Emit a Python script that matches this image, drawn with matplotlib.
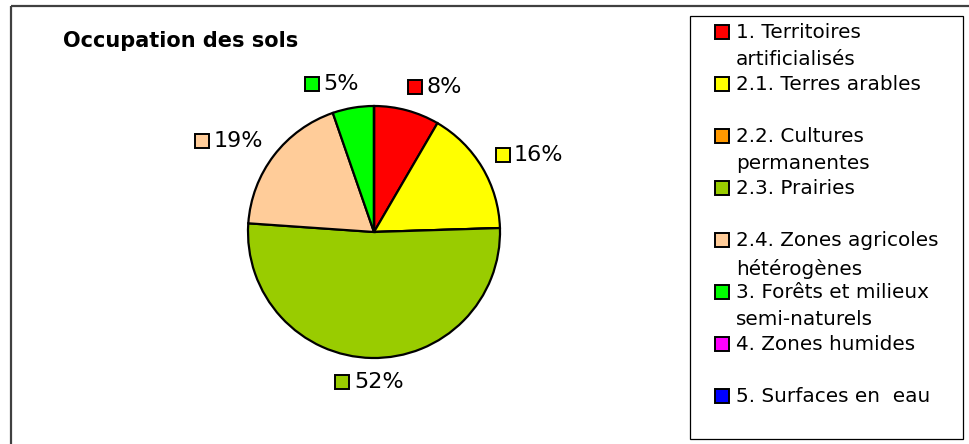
import numpy as np
import matplotlib
matplotlib.use("Agg")
import matplotlib.pyplot as plt
from matplotlib.patches import Rectangle

plt.rcParams['font.family'] = ['DejaVu Sans']

# ---- data ----
title = "Occupation des sols"
categories = [
    "1. Territoires\nartificialisés",
    "2.1. Terres arables",
    "2.2. Cultures\npermanentes",
    "2.3. Prairies",
    "2.4. Zones agricoles\nhétérogènes",
    "3. Forêts et milieux\nsemi-naturels",
    "4. Zones humides",
    "5. Surfaces en  eau",
]
values = [8.4, 16.1, 0.0, 51.6, 18.6, 5.3, 0.0, 0.0]
colors = ["#FF0000", "#FFFF00", "#FF9900", "#99CC00", "#FFCC99", "#00FF00", "#FF00FF", "#0000FF"]

W, H = 970, 444
fig = plt.figure(figsize=(W / 100, H / 100), dpi=100)

# overlay in pixel coordinates for frames / legend
ov = fig.add_axes([0, 0, 1, 1])
ov.set_xlim(0, W)
ov.set_ylim(H, 0)
ov.axis("off")

# outer chart border (partially cropped)
ov.add_patch(Rectangle((11, 6), 1200, 800, fill=False, ec="#404040", lw=1.6, clip_on=True))
# legend frame
ov.add_patch(Rectangle((690, 16), 273, 423, fill=False, ec="black", lw=0.9))

# title
ov.text(63, 41, title, fontsize=15, fontweight="bold", ha="left", va="center")

# pie
cx, cy, r = 374, 232, 126
ax = fig.add_axes([(cx - r) / W, (H - cy - r) / H, 2 * r / W, 2 * r / H])
wedges, _ = ax.pie(values, colors=colors, startangle=90, counterclock=False,
                   wedgeprops=dict(edgecolor="black", linewidth=1.6))
ax.set_xlim(-1, 1)
ax.set_ylim(-1, 1)
ax.set_aspect("equal")
ax.axis("off")

# data labels: marker + percentage, placed around mid-angle
total = sum(values)
fig.canvas.draw()
renderer = fig.canvas.get_renderer()
for w, v, c in zip(wedges, values, colors):
    if v <= 0:
        continue
    th = np.deg2rad((w.theta1 + w.theta2) / 2)
    dx = 1.26 * np.cos(th) + 0.15 * np.clip(5 * np.cos(th), -1, 1)
    dy = 1.19 * np.sin(th)
    pc = ax.transData.transform((dx, dy))
    px = pc[0]
    py = H - pc[1]
    txt = ov.text(0, py, f"{v / total * 100:.0f}%", fontsize=16, ha="left", va="center")
    tw = txt.get_window_extent(renderer).width
    msz = 15
    gap = 4
    left = px - (msz + gap + tw) / 2
    txt.set_x(left + msz + gap)
    ov.plot(left + msz / 2, py, marker="s", ms=10, mfc=c, mec="black", mew=1.4, ls="none")

# legend
y0, step = 32, 52
for i, (lab, c) in enumerate(zip(categories, colors)):
    y = y0 + i * step
    ov.plot(722, y, marker="s", ms=9.5, mfc=c, mec="black", mew=1.4, ls="none")
    ov.text(736, y - 9.5, lab, fontsize=14.4, ha="left", va="top", linespacing=1.58)

fig.savefig("out.png", dpi=100)
